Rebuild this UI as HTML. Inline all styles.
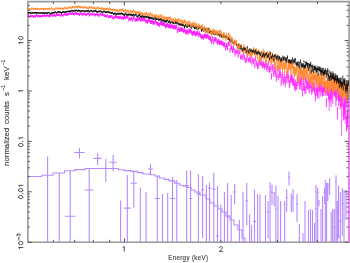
<!DOCTYPE html>
<html><head><meta charset="utf-8"><style>html,body{margin:0;padding:0;background:#fff;overflow:hidden}svg{display:block;filter:blur(0.35px)}</style></head>
<body><svg width="350" height="263" viewBox="0 0 350 263"><rect x="0" y="0" width="350" height="263" fill="#fff"/><path d="M27.9 1.6H349.1V242.2H27.9Z" fill="none" stroke="#9a9a9a" stroke-width="1.6"/><path d="M28 176.5H41.7V175.3H53V173H64.5V170.8H74.7V169.6H85V168.5H118.5V169.8H124V170.6H130.8V171.4H137.4V172.6H143V174H150V174.8H154.8V176H159.5V178H164.3V179.4H169V180.9H174.7V183.3H179.5V185.2H183.3V186.2H187V187.5H191V190H195V192H200V195H206V199H210V203H214V206H218V209H222V212H226V216H230V220H234V225H238V230H242V238H245V242.2" stroke="#b68aff" stroke-width="1.1" fill="none"/><path d="M47.6 156.5V242M59.3 173V242M70.2 171V242M64.9 216.3h10.6M79.5 148V158.5M74.3 152.5h10.4M89.2 168V242M84.7 190h9.0M97.6 153.3V165M93.6 158.4h8M105.8 159V182M102.2 168.5h7.2M113.1 154.8V171.3M109.39999999999999 162.2h7.4M120.6 200.5V242M127.3 175V242M123.8 208.1h7.0M133.8 171.3V207.7M130.70000000000002 183.3h6.2M140.3 187.4V242M146 192V242M150.5 163.8V175M148.0 169h5.0M157.3 176V242M154.70000000000002 198.5h5.2M162.5 194V242M167.7 193V242M172.5 177V242M170.0 198.5h5.0M176.8 180V242M186.7 170.4V242M184.7 185.6h4M190.6 170.4V242M189.0 198.5h3.2M198.4 174.2V242M196.8 193.6h3.2M202.6 176V238M201.0 190h3.2M206.4 185V242M209.5 182.6V242M207.7 188h3.6M213.8 172.8V242M212.3 189.4h3.0M217.5 186V242M216.0 236h3.0M220.8 204.5V242M224.4 192V242M227.6 182.8V242M226.1 217h3.0M231.2 195V242M234.6 184V204.5M233.1 192h3.0M239.4 220V242M243 192V242M246.8 182.8V225.5M245.3 201h3.0M249.6 214.4V242M251.6 225V242M254.5 189.4V242M253.0 221.4h3.0M257.6 194V242M260 194.4V242M265.5 195V242M268.1 201V238.4M266.90000000000003 212.2h2.4M270.1 182.2V242M272 184.7V205M271.0 192.4h2.0M274.2 192V206M275.9 185.6V242M274.9 209h2.0M278 196V242M280.6 201V242M284.7 201V242M286.7 189V212M285.7 197.5h2.0M289 171.4V185.6M287.8 177h2.4M291.3 194V212.2M293 189V212M292.0 197.5h2.0M297 194V222M296.0 203.7h2.0M299.4 224V242M303 233.3V242M305 201V242M308.5 210V242M310.5 209V242M312.5 210V242M314.5 223V242M316 184.7V242M315.0 209h2.0M317.7 188V242M316.7 192.4h2.0M319 200V206M321 209V242M322.6 196V242M324.6 188V204M323.6 192.4h2.0M325.3 180V242M326.6 183V242M327.8 182.8V201M326.8 185.6h2.0M329.6 178V195M331.2 212V242M332.7 209V242M334.3 209V242M333.3 227.3h2.0M336 175.2V242M335.0 181.8h2.0M337.3 201V242M336.3 212.6h2.0M338.5 185.6V238.4M337.5 236.4h2.0M340.3 192V242M339.3 221.2h2.0M342.3 188V235.4M341.3 203.7h2.0M344 190V242M346 190V220" stroke="#b68aff" stroke-width="1.1" fill="none"/><path d="M27.9 15.1H28.8M28.3 14.1V16.2M28.8 16.9H29.7M29.2 15.9V18.0M29.7 15.8H30.6M30.1 14.7V16.9M30.6 16.2H31.5M31.0 15.2V17.3M31.5 16.2H32.4M31.9 15.1V17.3M32.4 16.1H33.3M32.8 15.0V17.2M33.3 16.9H34.2M33.7 15.8V18.0M34.2 16.1H35.1M34.6 15.0V17.2M35.1 16.4H36.0M35.5 15.3V17.5M36.0 15.0H36.9M36.4 14.0V16.1M36.9 15.8H37.8M37.3 14.7V16.9M37.8 16.1H38.7M38.2 15.0V17.2M38.7 16.0H39.6M39.1 15.0V17.2M39.6 16.2H40.5M40.0 15.2V17.3M40.5 16.4H41.4M40.9 15.3V17.5M41.4 16.1H42.3M41.8 15.0V17.2M42.3 15.6H43.2M42.7 14.6V16.7M43.2 16.0H44.1M43.6 14.9V17.1M44.1 15.4H44.9M44.5 14.3V16.5M44.9 15.9H45.8M45.4 14.9V17.1M45.8 15.8H46.7M46.3 14.7V17.0M46.7 15.1H47.6M47.2 14.0V16.2M47.6 15.5H48.5M48.1 14.5V16.7M48.5 16.1H49.4M49.0 15.0V17.2M49.4 15.9H50.3M49.9 14.8V17.0M50.3 15.5H51.2M50.8 14.4V16.6M51.2 14.7H52.1M51.7 13.6V15.8M52.1 15.7H53.0M52.6 14.6V16.8M53.0 15.6H53.9M53.5 14.5V16.7M53.9 14.9H54.8M54.4 13.8V16.0M54.8 15.8H55.7M55.3 14.7V16.9M55.7 15.4H56.6M56.2 14.3V16.5M56.6 14.7H57.5M57.1 13.6V15.8M57.5 14.8H58.4M58.0 13.7V15.9M58.4 14.9H59.3M58.9 13.8V16.1M59.3 14.6H60.2M59.8 13.5V15.7M60.2 15.8H61.1M60.7 14.7V17.0M61.1 14.2H62.0M61.5 13.1V15.4M62.0 15.2H62.9M62.4 14.1V16.3M62.9 15.5H63.8M63.3 14.4V16.6M63.8 14.4H64.7M64.2 13.2V15.5M64.7 14.1H65.6M65.1 12.9V15.2M65.6 14.6H66.5M66.0 13.5V15.8M66.5 14.9H67.4M66.9 13.7V16.0M67.4 14.2H68.3M67.8 13.1V15.4M68.3 14.2H69.2M68.7 13.0V15.3M69.2 13.3H70.1M69.6 12.2V14.5M70.1 13.6H71.0M70.5 12.5V14.8M71.0 13.8H71.9M71.4 12.7V15.0M71.9 13.2H72.8M72.3 12.1V14.4M72.8 13.9H73.7M73.2 12.7V15.0M73.7 14.2H74.6M74.1 13.1V15.4M74.6 13.3H75.5M75.0 12.2V14.5M75.5 13.3H76.4M75.9 12.2V14.5M76.4 13.8H77.3M76.8 12.6V15.0M77.3 14.1H78.2M77.7 13.0V15.3M78.2 13.6H79.0M78.6 12.4V14.8M79.0 14.8H79.9M79.5 13.7V16.0M79.9 13.4H80.8M80.4 12.2V14.6M80.8 13.5H81.7M81.3 12.4V14.7M81.7 14.7H82.6M82.2 13.6V15.9M82.6 13.8H83.5M83.1 12.7V15.0M83.5 14.4H84.4M84.0 13.3V15.6M84.4 13.5H85.3M84.9 12.3V14.7M85.3 15.0H86.2M85.8 13.9V16.2M86.2 14.5H87.1M86.7 13.3V15.7M87.1 13.6H88.0M87.6 12.4V14.8M88.0 13.3H88.9M88.5 12.2V14.5M88.9 15.1H89.8M89.4 14.0V16.4M89.8 14.4H90.7M90.3 13.2V15.6M90.7 14.0H91.6M91.2 12.8V15.2M91.6 14.6H92.5M92.1 13.4V15.8M92.5 13.4H93.4M93.0 12.3V14.6M93.4 15.1H94.3M93.9 13.9V16.3M94.3 14.2H95.2M94.8 13.1V15.5M95.2 15.1H96.1M95.6 14.0V16.4M96.1 13.8H97.0M96.5 12.6V15.0M97.0 14.7H97.9M97.4 13.5V15.9M97.9 15.0H98.8M98.3 13.8V16.2M98.8 15.8H99.7M99.2 14.7V17.1M99.7 13.9H100.6M100.1 12.7V15.1M100.6 14.5H101.5M101.0 13.3V15.8M101.5 14.6H102.4M101.9 13.4V15.8M102.4 14.4H103.3M102.8 13.2V15.7M103.3 15.0H104.2M103.7 13.8V16.3M104.2 15.8H105.1M104.6 14.5V17.1M105.1 16.0H106.0M105.5 14.8V17.3M106.0 16.2H106.9M106.4 14.9V17.5M106.9 15.0H107.8M107.3 13.7V16.3M107.8 16.9H108.7M108.2 15.7V18.3M108.7 16.5H109.6M109.1 15.2V17.9M109.6 16.5H110.5M110.0 15.2V17.9M110.5 16.3H111.4M110.9 15.0V17.7M111.4 16.2H112.2M111.8 14.9V17.6M112.2 17.6H113.1M112.7 16.3V19.0M113.1 18.1H114.0M113.6 16.8V19.5M114.0 17.0H114.9M114.5 15.7V18.4M114.9 16.3H115.8M115.4 14.9V17.7M115.8 16.7H116.7M116.3 15.3V18.1M116.7 17.1H117.6M117.2 15.8V18.6M117.6 17.6H118.5M118.1 16.2V19.1M118.5 17.2H119.4M119.0 15.9V18.7M119.4 17.7H120.3M119.9 16.3V19.2M120.3 17.0H121.2M120.8 15.6V18.5M121.2 18.3H122.1M121.7 16.9V19.8M122.1 17.7H123.0M122.6 16.2V19.2M123.0 17.9H123.9M123.5 16.5V19.5M123.9 17.5H124.8M124.4 16.1V19.1M124.8 17.9H125.7M125.3 16.4V19.4M125.7 16.7H126.6M126.2 15.2V18.3M126.6 17.0H127.5M127.1 15.6V18.6M127.5 17.1H128.4M128.0 15.6V18.7M128.4 19.9H129.3M128.8 18.4V21.5M129.3 18.7H130.2M129.7 17.2V20.3M130.2 19.0H131.1M130.6 17.5V20.7M131.1 18.2H132.0M131.5 16.6V19.8M132.0 20.3H132.9M132.4 18.7V22.0M132.9 17.8H133.8M133.3 16.2V19.5M133.8 18.0H134.7M134.2 16.4V19.6M134.7 20.0H135.6M135.1 18.5V21.8M135.6 19.9H136.5M136.0 18.3V21.6M136.5 19.9H137.4M136.9 18.3V21.6M137.4 19.3H138.3M137.8 17.7V21.1M138.3 19.0H139.2M138.7 17.3V20.7M139.2 18.1H140.1M139.6 16.4V19.8M140.1 20.0H141.0M140.5 18.4V21.8M141.0 19.3H141.9M141.4 17.6V21.1M141.9 20.0H142.8M142.3 18.3V21.8M142.8 18.7H143.7M143.2 17.1V20.5M143.7 19.8H144.6M144.1 18.1V21.6M144.6 19.3H145.4M145.0 17.7V21.2M145.4 21.7H146.3M145.9 20.0V23.6M146.3 21.0H147.2M146.8 19.3V22.9M147.2 21.8H148.1M147.7 20.1V23.7M148.1 19.8H149.0M148.6 18.1V21.7M149.0 20.7H149.9M149.5 19.0V22.6M149.9 21.8H150.8M150.4 20.0V23.7M150.8 22.1H151.7M151.3 20.4V24.0M151.7 21.4H152.6M152.2 19.6V23.3M152.6 22.7H153.5M153.1 21.0V24.7M153.5 23.2H154.4M154.0 21.4V25.1M154.4 22.0H155.3M154.9 20.2V23.9M155.3 20.8H156.2M155.8 19.0V22.8M156.2 23.0H157.1M156.7 21.3V25.0M157.1 23.5H158.0M157.6 21.7V25.5M158.0 24.4H158.9M158.5 22.6V26.3M158.9 24.7H159.8M159.4 22.9V26.7M159.8 23.0H160.7M160.3 21.2V25.0M160.7 22.9H161.6M161.2 21.1V24.9M161.6 23.9H162.5M162.1 22.1V25.9M162.5 23.8H163.4M162.9 21.9V25.8M163.4 24.2H164.3M163.8 22.3V26.2M164.3 24.4H165.2M164.7 22.5V26.4M165.2 26.3H166.1M165.6 24.5V28.4M166.1 25.4H167.0M166.5 23.5V27.4M167.0 24.9H167.9M167.4 23.1V27.0M167.9 26.1H168.8M168.3 24.2V28.1M168.8 25.9H169.7M169.2 24.1V28.0M169.7 26.5H170.6M170.1 24.7V28.6M170.6 26.4H171.5M171.0 24.5V28.5M171.5 25.5H172.4M171.9 23.6V27.6M172.4 27.2H173.3M172.8 25.3V29.3M173.3 27.3H174.2M173.7 25.4V29.4M174.2 26.7H175.1M174.6 24.8V28.8M175.1 27.2H176.0M175.5 25.3V29.4M176.0 26.5H176.9M176.4 24.6V28.7M176.9 30.9H177.8M177.3 29.0V33.0M177.8 28.1H178.7M178.2 26.2V30.3M178.7 30.0H179.5M179.1 28.0V32.1M179.5 29.6H180.4M180.0 27.6V31.7M180.4 29.2H181.3M180.9 27.2V31.3M181.3 29.2H182.2M181.8 27.3V31.4M182.2 29.6H183.1M182.7 27.6V31.8M183.1 30.9H184.0M183.6 28.9V33.1M184.0 29.6H184.9M184.5 27.7V31.8M184.9 32.0H185.8M185.4 30.0V34.2M185.8 32.0H186.7M186.3 30.0V34.2M186.7 31.1H187.6M187.2 29.1V33.3M187.6 32.8H188.5M188.1 30.8V35.0M188.5 30.2H189.4M189.0 28.2V32.4M189.4 31.3H190.3M189.9 29.3V33.6M190.3 30.5H191.2M190.8 28.5V32.8M191.2 32.9H192.1M191.7 30.8V35.1M192.1 33.5H193.0M192.6 31.4V35.7M193.0 33.0H193.9M193.5 30.9V35.2M193.9 32.5H194.8M194.4 30.4V34.7M194.8 34.2H195.7M195.3 32.2V36.5M195.7 33.2H196.6M196.1 31.1V35.5M196.6 33.8H197.5M197.0 31.8V36.1M197.5 32.1H198.4M197.9 30.0V34.4M198.4 35.1H199.3M198.8 33.0V37.4M199.3 33.4H200.2M199.7 31.3V35.7M200.2 35.8H201.1M200.6 33.7V38.1M201.1 36.5H202.0M201.5 34.4V38.8M202.0 36.5H202.9M202.4 34.4V38.8M202.9 37.5H203.8M203.3 35.4V39.8M203.8 36.0H204.7M204.2 33.9V38.3M204.7 35.2H205.6M205.1 33.1V37.5M205.6 36.7H206.5M206.0 34.6V39.0M206.5 36.4H207.4M206.9 34.3V38.7M207.4 35.4H208.3M207.8 33.3V37.7M208.3 37.5H209.2M208.7 35.4V39.8M209.2 37.9H210.1M209.6 35.8V40.2M210.1 38.9H211.0M210.5 36.8V41.3M211.0 41.4H211.9M211.4 39.2V43.7M211.9 38.1H212.7M212.3 36.0V40.4M212.7 42.3H213.6M213.2 40.2V44.7M213.6 38.9H214.5M214.1 36.7V41.2M214.5 40.2H215.4M215.0 38.1V42.5M215.4 38.8H216.3M215.9 36.7V41.1M216.3 40.9H217.2M216.8 38.8V43.3M217.2 42.5H218.1M217.7 40.4V44.9M218.1 40.9H219.0M218.6 38.8V43.2M219.0 42.8H219.9M219.5 40.6V45.1M219.9 42.5H220.8M220.4 40.4V44.8M220.8 42.5H221.7M221.3 40.4V44.8M221.7 43.2H222.6M222.2 41.1V45.5M222.6 43.7H223.5M223.1 41.5V46.0M223.5 45.2H224.4M224.0 43.1V47.6M224.4 44.4H225.3M224.8 42.3V46.8M225.3 48.2H226.2M225.7 46.1V50.5M226.2 45.1H227.0M226.6 43.0V47.5M227.0 47.6H227.9M227.5 45.4V49.9M227.9 43.6H228.7M228.3 41.5V45.9M228.7 43.7H229.6M229.2 41.5V46.0M229.6 50.3H230.4M230.0 48.2V52.6M230.4 46.7H231.3M230.9 44.6V49.0M231.3 47.9H232.1M231.7 45.8V50.2M232.1 50.5H233.0M232.5 48.4V52.8M233.0 47.9H233.8M233.4 45.8V50.2M233.8 50.5H234.6M234.2 48.4V52.8" stroke="#ff20ff" stroke-width="1.05" fill="none"/><path d="M234.6 54.2H235.4M235.0 52.1V56.5M235.4 51.4H236.2M235.8 49.3V53.7M236.2 51.8H237.0M236.6 49.7V54.1M237.0 51.8H237.8M237.4 49.8V54.2M237.8 55.5H238.6M238.2 53.4V57.8M238.6 52.1H239.4M239.0 50.0V54.4M239.4 52.5H240.2M239.8 50.4V54.8M240.2 57.4H241.0M240.6 55.3V59.7M241.0 56.9H241.8M241.4 54.7V59.2M241.8 56.2H242.6M242.2 54.0V58.5M242.6 58.0H243.3M243.0 55.8V60.4M243.3 53.6H244.1M243.7 51.4V56.0M244.1 57.3H244.9M244.5 55.1V59.7M244.9 60.6H245.6M245.3 58.4V63.0M245.6 60.4H246.4M246.0 58.1V62.9M246.4 58.9H247.1M246.8 56.7V61.4M247.1 55.0H247.9M247.5 52.7V57.5M247.9 59.9H248.6M248.3 57.6V62.5M248.6 59.5H249.4M249.0 57.2V62.1M249.4 58.9H250.1M249.7 56.6V61.5M250.1 60.6H250.8M250.5 58.3V63.2M250.8 56.5H251.6M251.2 54.2V59.2M251.6 62.6H252.3M251.9 60.2V65.2M252.3 59.7H253.0M252.7 57.3V62.4M253.0 61.4H253.7M253.4 58.9V64.1M253.7 60.5H254.4M254.1 58.1V63.3M254.4 65.6H255.2M254.8 63.2V68.4M255.2 58.5H255.9M255.5 56.0V61.2M255.9 63.3H256.6M256.2 60.8V66.1M256.6 63.1H257.3M256.9 60.6V66.0M257.3 66.2H258.0M257.6 63.6V69.0M258.0 65.9H258.7M258.3 63.3V68.7M258.7 62.6H259.3M259.0 60.1V65.5M259.3 61.8H260.0M259.7 59.3V64.7M260.0 62.7H260.7M260.4 60.1V65.6M260.7 61.9H261.4M261.0 59.3V64.8M261.4 63.4H262.1M261.7 60.8V66.3M262.1 65.5H262.7M262.4 62.9V68.5M262.7 63.6H263.4M263.1 61.0V66.7M263.4 64.6H264.1M263.7 61.9V67.6M264.1 66.8H264.7M264.4 64.1V69.8M264.7 64.8H265.4M265.1 62.1V67.9M265.4 63.6H266.0M265.7 60.9V66.7M266.0 66.7H266.7M266.4 64.0V69.8M266.7 68.7H267.3M267.0 66.0V71.9M267.3 65.9H268.0M267.7 63.2V69.1M268.0 63.2H268.6M268.3 60.5V66.4M268.6 69.2H269.3M269.0 66.4V72.4M269.3 69.1H269.9M269.6 66.3V72.3M269.9 69.5H270.6M270.2 66.7V72.8M270.6 66.1H271.2M270.9 63.2V69.3M271.2 76.3H271.8M271.5 73.4V79.6M271.8 69.1H272.4M272.1 66.2V72.4M272.4 67.1H273.1M272.8 64.2V70.4M273.1 73.5H273.7M273.4 70.6V76.9M273.7 67.0H274.3M274.0 64.1V70.4M274.3 69.9H274.9M274.6 67.0V73.3M274.9 73.7H275.5M275.2 70.7V77.1M275.5 71.6H276.1M275.8 68.6V75.0M276.1 78.1H276.7M276.4 75.1V81.5M276.7 74.8H277.4M277.1 71.8V78.2M277.4 68.0H278.0M277.7 65.0V71.5M278.0 76.6H278.6M278.3 73.6V80.1M278.6 68.6H279.2M278.9 65.5V72.1M279.2 74.5H279.7M279.5 71.4V78.0M279.7 71.5H280.3M280.0 68.4V75.0M280.3 74.6H280.9M280.6 71.6V78.2M280.9 82.5H281.5M281.2 79.4V86.1M281.5 77.3H282.1M281.8 74.2V80.9M282.1 75.0H282.7M282.4 71.8V78.6M282.7 80.1H283.3M283.0 77.0V83.7M283.3 81.2H283.8M283.6 78.1V84.8M283.8 75.2H284.4M284.1 72.0V78.8M284.4 78.9H285.0M284.7 75.8V82.6M285.0 83.6H285.6M285.3 80.4V87.3M285.6 79.6H286.1M285.8 76.4V83.3M286.1 74.6H286.7M286.4 71.4V78.3M286.7 79.3H287.3M287.0 76.1V83.1M287.3 74.9H287.8M287.5 71.7V78.6M287.8 73.4H288.4M288.1 70.2V77.2M288.4 78.3H288.9M288.7 75.0V82.1M288.9 83.0H289.5M289.2 79.8V86.8M289.5 84.0H290.0M289.8 80.8V87.9M290.0 79.2H290.6M290.3 75.9V83.1M290.6 76.4H291.1M290.9 73.1V80.3M291.1 78.6H291.7M291.4 75.3V82.5M291.7 77.8H292.2M291.9 74.5V81.7M292.2 81.6H292.8M292.5 78.2V85.5M292.8 79.1H293.3M293.0 75.7V83.0M293.3 82.1H293.8M293.6 78.7V86.0M293.8 81.7H294.4M294.1 78.4V85.7M294.4 86.0H294.9M294.6 82.6V90.0M294.9 87.6H295.4M295.2 84.2V91.6M295.4 82.9H296.0M295.7 79.5V86.9M296.0 85.8H296.5M296.2 82.4V89.8M296.5 85.3H297.0M296.8 81.9V89.4M297.0 79.3H297.5M297.3 75.9V83.4M297.5 82.3H298.1M297.8 78.8V86.3M298.1 75.9H298.6M298.3 72.5V80.0M298.6 79.0H299.1M298.8 75.6V83.1M299.1 84.9H299.6M299.4 81.5V89.1M299.6 79.9H300.1M299.9 76.4V84.0M300.1 81.5H300.6M300.4 78.0V85.6M300.6 85.8H301.1M300.9 82.3V89.9M301.1 79.3H301.7M301.4 75.8V83.5M301.7 86.5H302.2M301.9 83.0V90.7M302.2 92.4H302.7M302.4 88.9V96.6M302.7 80.9H303.2M302.9 77.3V85.1M303.2 86.4H303.7M303.4 82.9V90.7M303.7 79.0H304.2M303.9 75.4V83.3M304.2 87.0H304.7M304.4 83.4V91.2M304.7 89.6H305.2M304.9 86.0V93.9M305.2 79.3H305.7M305.4 75.7V83.6M305.7 89.4H306.1M305.9 85.8V93.7M306.1 84.1H306.6M306.4 80.5V88.4M306.6 79.9H307.1M306.9 76.3V84.3M307.1 84.7H307.6M307.4 81.1V89.0M307.6 85.6H308.1M307.9 81.9V90.0M308.1 85.0H308.6M308.3 81.3V89.4M308.6 82.4H309.1M308.8 78.7V86.8M309.1 89.1H309.5M309.3 85.5V93.5M309.5 83.5H310.0M309.8 79.8V87.9M310.0 83.7H310.5M310.3 80.0V88.1M310.5 79.5H311.0M310.7 75.8V83.9M311.0 87.6H311.4M311.2 83.8V92.0M311.4 90.3H311.9M311.7 86.6V94.8M311.9 83.6H312.4M312.1 79.9V88.1M312.4 88.2H312.9M312.6 84.5V92.7M312.9 85.5H313.3M313.1 81.8V90.0M313.3 86.2H313.8M313.5 82.5V90.8M313.8 82.6H314.2M314.0 78.8V87.1M314.2 89.9H314.7M314.5 86.1V94.5M314.7 87.5H315.2M314.9 83.7V92.1M315.2 97.0H315.6M315.4 93.2V101.6M315.6 91.4H316.1M315.9 87.6V96.1M316.1 81.9H316.5M316.3 78.1V86.5M316.5 90.7H317.0M316.8 86.9V95.3M317.0 90.9H317.5M317.2 87.1V95.6M317.5 93.7H317.9M317.7 89.9V98.4M317.9 85.7H318.4M318.1 81.8V90.4M318.4 87.4H318.8M318.6 83.5V92.1M318.8 93.9H319.2M319.0 90.1V98.6M319.2 85.7H319.7M319.5 81.8V90.4M319.7 87.4H320.1M319.9 83.5V92.1M320.1 85.6H320.6M320.4 81.7V90.4M320.6 91.7H321.0M320.8 87.8V96.5M321.0 82.5H321.5M321.2 78.6V87.3M321.5 87.4H321.9M321.7 83.5V92.2M321.9 89.8H322.3M322.1 85.9V94.6M322.3 91.8H322.8M322.6 87.9V96.6M322.8 90.7H323.2M323.0 86.7V95.5M323.2 86.3H323.6M323.4 82.4V91.2M323.6 91.1H324.1M323.9 87.2V96.0M324.1 85.8H324.5M324.3 81.8V90.7M324.5 87.8H324.9M324.7 83.8V92.7M324.9 85.1H325.4M325.2 81.1V90.1M325.4 87.2H325.8M325.6 83.1V92.2M325.8 91.0H326.2M326.0 86.9V96.1M326.2 102.0H326.6M326.4 97.8V107.1M326.6 89.7H327.1M326.9 85.5V94.9M327.1 87.7H327.5M327.3 83.5V93.0M327.5 90.6H327.9M327.7 86.3V95.9M327.9 88.9H328.3M328.1 84.6V94.4M328.3 94.1H328.7M328.5 89.7V99.6M328.7 93.7H329.2M329.0 89.3V99.3M329.2 97.2H329.6M329.4 92.7V102.9M329.6 86.1H330.0M329.8 81.5V91.8M330.0 91.4H330.4M330.2 86.8V97.3M330.4 95.1H330.8M330.6 90.5V101.0M330.8 100.9H331.2M331.0 96.2V106.9M331.2 93.5H331.6M331.4 88.8V99.6M331.6 86.2H332.0M331.8 81.4V92.4M332.0 90.6H332.4M332.2 85.8V96.8M332.4 97.5H332.9M332.7 92.6V103.8M332.9 86.5H333.3M333.1 81.6V92.9M333.3 86.6H333.7M333.5 81.7V93.1M333.7 88.6H334.1M333.9 83.6V95.2M334.1 89.6H334.5M334.3 84.6V96.2M334.5 88.1H334.9M334.7 83.0V94.7M334.9 91.1H335.3M335.1 85.9V97.9M335.3 90.2H335.7M335.5 85.0V97.0M335.7 99.8H336.1M335.9 94.5V106.7M336.1 87.3H336.5M336.3 82.1V94.3M336.5 93.8H336.8M336.6 88.5V100.9M336.8 86.1H337.2M337.0 80.7V93.3M337.2 112.4H337.6M337.4 107.0V119.6M337.6 92.0H338.0M337.8 86.5V99.3M338.0 90.8H338.4M338.2 85.3V98.2M338.4 98.8H338.8M338.6 93.2V106.2M338.8 94.1H339.2M339.0 88.5V101.6M339.2 92.7H339.6M339.4 87.0V100.3M339.6 93.8H340.0M339.8 88.2V101.5M340.0 101.4H340.3M340.2 95.7V109.2M340.3 98.8H340.7M340.5 93.0V106.6M340.7 92.2H341.1M340.9 86.4V100.1M341.1 91.1H341.5M341.3 85.3V99.1M341.5 98.0H341.9M341.7 92.1V106.1M341.9 98.4H342.3M342.1 92.4V106.5M342.3 97.8H342.6M342.4 91.8V106.1M342.6 93.2H343.0M342.8 87.2V101.5M343.0 108.6H343.4M343.2 102.6V117.0M343.4 112.1H343.8M343.6 106.0V120.6M343.8 99.3H344.1M343.9 93.2V107.9M344.1 110.2H344.5M344.3 104.1V118.9M344.5 105.4H344.9M344.7 99.2V114.1M344.9 100.3H345.2M345.1 94.1V109.1M345.2 98.0H345.6M345.4 91.7V106.8M345.6 111.2H346.0M345.8 104.9V120.2M346.0 96.5H346.4M346.2 90.1V105.5M346.4 122.3H346.7M346.5 115.8V131.4M346.7 98.5H347.1M346.9 92.0V107.7M347.1 119.7H347.5M347.3 113.2V129.0M347.5 115.6H347.8M347.6 109.0V124.9M347.8 98.6H348.2M348.0 92.0V108.0M348.2 106.4H348.5M348.3 99.8V115.8" stroke="#ff20ff" stroke-width="0.85" fill="none"/><path d="M27.9 12.8H28.8M28.3 12.0V13.6M28.8 12.6H29.7M29.2 11.9V13.4M29.7 12.8H30.6M30.1 12.0V13.6M30.6 13.4H31.5M31.0 12.6V14.1M31.5 12.6H32.4M31.9 11.9V13.4M32.4 12.8H33.3M32.8 12.0V13.6M33.3 13.1H34.2M33.7 12.4V13.9M34.2 12.7H35.1M34.6 12.0V13.5M35.1 12.8H36.0M35.5 12.0V13.6M36.0 12.8H36.9M36.4 12.1V13.6M36.9 12.9H37.8M37.3 12.2V13.7M37.8 12.8H38.7M38.2 12.0V13.5M38.7 13.2H39.6M39.1 12.4V14.0M39.6 13.0H40.5M40.0 12.3V13.8M40.5 13.1H41.4M40.9 12.4V13.9M41.4 12.8H42.3M41.8 12.0V13.5M42.3 13.0H43.2M42.7 12.2V13.7M43.2 13.1H44.1M43.6 12.3V13.9M44.1 13.3H44.9M44.5 12.5V14.0M44.9 13.1H45.8M45.4 12.3V13.9M45.8 13.0H46.7M46.3 12.2V13.8M46.7 13.1H47.6M47.2 12.3V13.9M47.6 12.5H48.5M48.1 11.8V13.3M48.5 12.6H49.4M49.0 11.9V13.4M49.4 13.7H50.3M49.9 12.9V14.5M50.3 13.6H51.2M50.8 12.9V14.4M51.2 12.9H52.1M51.7 12.2V13.7M52.1 13.0H53.0M52.6 12.2V13.7M53.0 12.7H53.9M53.5 11.9V13.5M53.9 12.6H54.8M54.4 11.8V13.4M54.8 11.9H55.7M55.3 11.2V12.7M55.7 12.9H56.6M56.2 12.2V13.7M56.6 12.6H57.5M57.1 11.8V13.4M57.5 11.7H58.4M58.0 10.9V12.5M58.4 12.1H59.3M58.9 11.3V12.9M59.3 12.0H60.2M59.8 11.2V12.8M60.2 12.4H61.1M60.7 11.6V13.2M61.1 12.7H62.0M61.5 12.0V13.5M62.0 12.0H62.9M62.4 11.2V12.8M62.9 11.9H63.8M63.3 11.2V12.7M63.8 12.3H64.7M64.2 11.5V13.1M64.7 12.0H65.6M65.1 11.2V12.8M65.6 11.7H66.5M66.0 10.9V12.5M66.5 11.9H67.4M66.9 11.2V12.7M67.4 11.5H68.3M67.8 10.7V12.3M68.3 11.3H69.2M68.7 10.6V12.1M69.2 11.3H70.1M69.6 10.5V12.1M70.1 11.4H71.0M70.5 10.6V12.2M71.0 10.9H71.9M71.4 10.1V11.7M71.9 10.7H72.8M72.3 9.9V11.5M72.8 10.8H73.7M73.2 10.0V11.6M73.7 11.1H74.6M74.1 10.3V11.9M74.6 10.4H75.5M75.0 9.7V11.2M75.5 10.9H76.4M75.9 10.1V11.7M76.4 10.4H77.3M76.8 9.6V11.2M77.3 11.2H78.2M77.7 10.4V12.0M78.2 10.4H79.0M78.6 9.7V11.2M79.0 10.8H79.9M79.5 10.0V11.6M79.9 11.3H80.8M80.4 10.5V12.1M80.8 11.0H81.7M81.3 10.2V11.8M81.7 10.8H82.6M82.2 10.1V11.6M82.6 10.8H83.5M83.1 10.0V11.6M83.5 11.3H84.4M84.0 10.5V12.1M84.4 11.3H85.3M84.9 10.6V12.1M85.3 10.9H86.2M85.8 10.1V11.7M86.2 11.1H87.1M86.7 10.3V11.9M87.1 10.9H88.0M87.6 10.1V11.7M88.0 10.7H88.9M88.5 9.9V11.5M88.9 11.7H89.8M89.4 10.9V12.5M89.8 11.0H90.7M90.3 10.2V11.8M90.7 10.6H91.6M91.2 9.8V11.4M91.6 11.2H92.5M92.1 10.5V12.1M92.5 11.5H93.4M93.0 10.7V12.3M93.4 10.9H94.3M93.9 10.1V11.7M94.3 11.1H95.2M94.8 10.4V12.0M95.2 10.9H96.1M95.6 10.2V11.8M96.1 11.5H97.0M96.5 10.7V12.3M97.0 11.9H97.9M97.4 11.2V12.8M97.9 11.4H98.8M98.3 10.7V12.3M98.8 11.6H99.7M99.2 10.8V12.4M99.7 11.2H100.6M100.1 10.4V12.0M100.6 11.4H101.5M101.0 10.6V12.3M101.5 12.2H102.4M101.9 11.4V13.0M102.4 12.1H103.3M102.8 11.3V12.9M103.3 11.4H104.2M103.7 10.5V12.2M104.2 11.6H105.1M104.6 10.8V12.4M105.1 12.3H106.0M105.5 11.4V13.1M106.0 12.1H106.9M106.4 11.3V13.0M106.9 12.1H107.8M107.3 11.3V13.0M107.8 12.2H108.7M108.2 11.4V13.1M108.7 12.2H109.6M109.1 11.4V13.1M109.6 12.6H110.5M110.0 11.7V13.5M110.5 12.9H111.4M110.9 12.0V13.8M111.4 13.1H112.2M111.8 12.2V14.0M112.2 12.7H113.1M112.7 11.8V13.6M113.1 14.1H114.0M113.6 13.3V15.0M114.0 13.5H114.9M114.5 12.6V14.4M114.9 13.5H115.8M115.4 12.6V14.4M115.8 14.3H116.7M116.3 13.4V15.2M116.7 13.5H117.6M117.2 12.6V14.5M117.6 14.0H118.5M118.1 13.1V15.0M118.5 13.4H119.4M119.0 12.5V14.4M119.4 13.9H120.3M119.9 13.0V14.9M120.3 13.6H121.2M120.8 12.7V14.6M121.2 13.5H122.1M121.7 12.5V14.4M122.1 13.9H123.0M122.6 13.0V14.9M123.0 14.6H123.9M123.5 13.7V15.6M123.9 15.0H124.8M124.4 14.1V16.0M124.8 13.5H125.7M125.3 12.5V14.5M125.7 14.4H126.6M126.2 13.5V15.4M126.6 14.8H127.5M127.1 13.9V15.8M127.5 14.5H128.4M128.0 13.5V15.5M128.4 14.7H129.3M128.8 13.7V15.7M129.3 14.3H130.2M129.7 13.3V15.3M130.2 14.7H131.1M130.6 13.8V15.8M131.1 14.8H132.0M131.5 13.8V15.8M132.0 15.3H132.9M132.4 14.3V16.3M132.9 14.7H133.8M133.3 13.7V15.8M133.8 15.6H134.7M134.2 14.6V16.6M134.7 14.8H135.6M135.1 13.8V15.8M135.6 14.5H136.5M136.0 13.5V15.5M136.5 16.2H137.4M136.9 15.2V17.3M137.4 16.6H138.3M137.8 15.6V17.7M138.3 15.3H139.2M138.7 14.3V16.4M139.2 14.8H140.1M139.6 13.8V15.9M140.1 16.5H141.0M140.5 15.5V17.6M141.0 16.8H141.9M141.4 15.7V17.9M141.9 15.9H142.8M142.3 14.8V17.0M142.8 16.8H143.7M143.2 15.8V17.9M143.7 16.8H144.6M144.1 15.7V17.9M144.6 16.8H145.4M145.0 15.8V17.9M145.4 16.5H146.3M145.9 15.4V17.6M146.3 17.1H147.2M146.8 16.1V18.3M147.2 16.9H148.1M147.7 15.8V18.0M148.1 17.3H149.0M148.6 16.2V18.4M149.0 17.8H149.9M149.5 16.7V19.0M149.9 17.7H150.8M150.4 16.6V18.8M150.8 18.2H151.7M151.3 17.1V19.4M151.7 17.9H152.6M152.2 16.8V19.0M152.6 18.7H153.5M153.1 17.6V19.9M153.5 18.9H154.4M154.0 17.8V20.1M154.4 17.6H155.3M154.9 16.4V18.7M155.3 18.6H156.2M155.8 17.5V19.8M156.2 18.8H157.1M156.7 17.7V20.0M157.1 18.7H158.0M157.6 17.5V19.9M158.0 19.4H158.9M158.5 18.3V20.6M158.9 19.5H159.8M159.4 18.4V20.7M159.8 19.3H160.7M160.3 18.1V20.5M160.7 19.6H161.6M161.2 18.4V20.8M161.6 20.7H162.5M162.1 19.5V21.9M162.5 19.6H163.4M162.9 18.4V20.8M163.4 20.7H164.3M163.8 19.5V21.9M164.3 21.2H165.2M164.7 20.0V22.4M165.2 21.3H166.1M165.6 20.1V22.5M166.1 21.1H167.0M166.5 20.0V22.4M167.0 20.0H167.9M167.4 18.9V21.3M167.9 22.0H168.8M168.3 20.8V23.3M168.8 21.3H169.7M169.2 20.1V22.6M169.7 22.9H170.6M170.1 21.7V24.2M170.6 21.9H171.5M171.0 20.7V23.1M171.5 21.5H172.4M171.9 20.3V22.8M172.4 22.5H173.3M172.8 21.3V23.8M173.3 23.0H174.2M173.7 21.8V24.3M174.2 22.6H175.1M174.6 21.4V23.9M175.1 22.6H176.0M175.5 21.3V23.8M176.0 22.8H176.9M176.4 21.6V24.1M176.9 22.2H177.8M177.3 21.0V23.5M177.8 23.6H178.7M178.2 22.4V24.9M178.7 24.4H179.5M179.1 23.1V25.7M179.5 24.3H180.4M180.0 23.1V25.6M180.4 24.5H181.3M180.9 23.2V25.8M181.3 24.6H182.2M181.8 23.3V25.9M182.2 24.9H183.1M182.7 23.7V26.2M183.1 25.0H184.0M183.6 23.8V26.3M184.0 26.6H184.9M184.5 25.3V27.9M184.9 25.0H185.8M185.4 23.7V26.3M185.8 26.1H186.7M186.3 24.8V27.5M186.7 26.7H187.6M187.2 25.4V28.0M187.6 25.5H188.5M188.1 24.2V26.9M188.5 25.2H189.4M189.0 23.9V26.5M189.4 25.9H190.3M189.9 24.6V27.3M190.3 26.3H191.2M190.8 25.0V27.6M191.2 27.2H192.1M191.7 25.9V28.6M192.1 25.3H193.0M192.6 24.0V26.7M193.0 26.2H193.9M193.5 24.9V27.5M193.9 27.8H194.8M194.4 26.5V29.2M194.8 27.7H195.7M195.3 26.4V29.1M195.7 27.1H196.6M196.1 25.8V28.5M196.6 28.6H197.5M197.0 27.2V30.0M197.5 27.4H198.4M197.9 26.0V28.8M198.4 28.1H199.3M198.8 26.8V29.5M199.3 27.2H200.2M199.7 25.8V28.6M200.2 27.6H201.1M200.6 26.3V29.0M201.1 30.2H202.0M201.5 28.9V31.6M202.0 28.9H202.9M202.4 27.6V30.3M202.9 30.6H203.8M203.3 29.3V32.0M203.8 28.7H204.7M204.2 27.3V30.1M204.7 29.7H205.6M205.1 28.4V31.1M205.6 29.7H206.5M206.0 28.3V31.1M206.5 31.3H207.4M206.9 30.0V32.8M207.4 29.2H208.3M207.8 27.9V30.6M208.3 29.4H209.2M208.7 28.1V30.8M209.2 32.2H210.1M209.6 30.9V33.6M210.1 31.2H211.0M210.5 29.9V32.6M211.0 32.5H211.9M211.4 31.1V33.9M211.9 32.2H212.7M212.3 30.8V33.6M212.7 33.6H213.6M213.2 32.3V35.0M213.6 31.0H214.5M214.1 29.7V32.4M214.5 33.9H215.4M215.0 32.6V35.3M215.4 33.6H216.3M215.9 32.3V35.0M216.3 33.1H217.2M216.8 31.8V34.5M217.2 34.5H218.1M217.7 33.2V35.9M218.1 34.4H219.0M218.6 33.1V35.8M219.0 35.1H219.9M219.5 33.8V36.5M219.9 34.9H220.8M220.4 33.6V36.3M220.8 36.3H221.7M221.3 35.0V37.7M221.7 35.9H222.6M222.2 34.5V37.3M222.6 35.9H223.5M223.1 34.6V37.3M223.5 36.4H224.4M224.0 35.0V37.7M224.4 36.4H225.3M224.9 35.1V37.8M225.3 37.3H226.2M225.8 36.0V38.7M226.2 36.6H227.1M226.7 35.3V38.0M227.1 38.3H228.0M227.6 37.0V39.7M228.0 38.5H228.9M228.5 37.2V39.9M228.9 39.7H229.8M229.3 38.4V41.0M229.8 40.0H230.7M230.2 38.7V41.4M230.7 41.4H231.6M231.1 40.1V42.8M231.6 39.7H232.5M232.0 38.4V41.1M232.5 42.5H233.4M232.9 41.2V43.9M233.4 42.8H234.3M233.8 41.5V44.1M234.3 42.1H235.2M234.7 40.9V43.5M235.2 42.8H236.1M235.6 41.5V44.2M236.1 44.6H237.0M236.5 43.3V45.9M237.0 47.4H237.9M237.4 46.1V48.7M237.9 45.0H238.8M238.3 43.7V46.3M238.8 45.7H239.7M239.2 44.5V47.1" stroke="#000" stroke-width="0.85" fill="none"/><path d="M27.9 8.8H28.8M28.3 8.0V9.7M28.8 9.1H29.7M29.2 8.3V9.9M29.7 9.1H30.6M30.1 8.2V9.9M30.6 9.6H31.5M31.0 8.8V10.5M31.5 8.2H32.4M31.9 7.4V9.1M32.4 8.5H33.3M32.8 7.7V9.3M33.3 9.0H34.2M33.7 8.2V9.9M34.2 8.6H35.1M34.6 7.8V9.5M35.1 8.8H36.0M35.5 8.0V9.7M36.0 9.1H36.9M36.4 8.3V10.0M36.9 8.5H37.8M37.3 7.7V9.4M37.8 9.0H38.7M38.2 8.2V9.9M38.7 9.0H39.6M39.1 8.2V9.9M39.6 9.2H40.5M40.0 8.4V10.1M40.5 8.7H41.4M40.9 7.9V9.6M41.4 8.9H42.3M41.8 8.1V9.8M42.3 8.7H43.2M42.7 7.8V9.6M43.2 9.1H44.1M43.6 8.3V10.0M44.1 8.9H44.9M44.5 8.0V9.7M44.9 9.3H45.8M45.4 8.4V10.1M45.8 8.6H46.7M46.3 7.7V9.5M46.7 8.8H47.6M47.2 8.0V9.7M47.6 8.8H48.5M48.1 7.9V9.7M48.5 8.7H49.4M49.0 7.9V9.6M49.4 9.3H50.3M49.9 8.5V10.2M50.3 8.6H51.2M50.8 7.7V9.5M51.2 8.1H52.1M51.7 7.2V9.0M52.1 9.5H53.0M52.6 8.6V10.4M53.0 9.5H53.9M53.5 8.6V10.4M53.9 9.4H54.8M54.4 8.5V10.3M54.8 8.4H55.7M55.3 7.5V9.3M55.7 8.7H56.6M56.2 7.8V9.6M56.6 8.2H57.5M57.1 7.4V9.2M57.5 8.4H58.4M58.0 7.5V9.3M58.4 8.5H59.3M58.9 7.7V9.5M59.3 8.5H60.2M59.8 7.6V9.4M60.2 8.6H61.1M60.7 7.8V9.6M61.1 8.2H62.0M61.5 7.3V9.1M62.0 9.0H62.9M62.4 8.1V9.9M62.9 8.6H63.8M63.3 7.8V9.6M63.8 8.2H64.7M64.2 7.4V9.2M64.7 7.5H65.6M65.1 6.6V8.4M65.6 8.4H66.5M66.0 7.6V9.4M66.5 8.5H67.4M66.9 7.6V9.4M67.4 8.1H68.3M67.8 7.2V9.1M68.3 7.4H69.2M68.7 6.5V8.3M69.2 7.8H70.1M69.6 6.9V8.7M70.1 7.0H71.0M70.5 6.1V7.9M71.0 8.3H71.9M71.4 7.4V9.2M71.9 6.9H72.8M72.3 6.0V7.8M72.8 6.8H73.7M73.2 5.9V7.7M73.7 7.7H74.6M74.1 6.8V8.7M74.6 6.9H75.5M75.0 6.0V7.9M75.5 6.5H76.4M75.9 5.6V7.5M76.4 7.0H77.3M76.8 6.1V8.0M77.3 6.7H78.2M77.7 5.7V7.6M78.2 6.3H79.0M78.6 5.4V7.3M79.0 7.0H79.9M79.5 6.1V8.0M79.9 7.3H80.8M80.4 6.4V8.3M80.8 7.6H81.7M81.3 6.7V8.5M81.7 7.0H82.6M82.2 6.0V7.9M82.6 7.4H83.5M83.1 6.5V8.3M83.5 7.4H84.4M84.0 6.5V8.4M84.4 7.4H85.3M84.9 6.5V8.4M85.3 7.1H86.2M85.8 6.2V8.1M86.2 7.9H87.1M86.7 7.0V8.9M87.1 8.2H88.0M87.6 7.2V9.1M88.0 8.4H88.9M88.5 7.4V9.3M88.9 7.0H89.8M89.4 6.1V8.0M89.8 7.6H90.7M90.3 6.6V8.6M90.7 7.0H91.6M91.2 6.1V8.0M91.6 7.8H92.5M92.1 6.8V8.7M92.5 8.2H93.4M93.0 7.2V9.2M93.4 7.7H94.3M93.9 6.8V8.7M94.3 8.0H95.2M94.8 7.1V9.0M95.2 8.7H96.1M95.6 7.7V9.7M96.1 8.6H97.0M96.5 7.6V9.6M97.0 7.4H97.9M97.4 6.5V8.4M97.9 8.1H98.8M98.3 7.2V9.1M98.8 8.2H99.7M99.2 7.2V9.2M99.7 8.6H100.6M100.1 7.6V9.6M100.6 8.9H101.5M101.0 7.9V9.9M101.5 8.2H102.4M101.9 7.2V9.2M102.4 8.7H103.3M102.8 7.8V9.8M103.3 9.1H104.2M103.7 8.2V10.2M104.2 8.9H105.1M104.6 7.9V10.0M105.1 9.4H106.0M105.5 8.4V10.4M106.0 8.9H106.9M106.4 7.9V10.0M106.9 8.5H107.8M107.3 7.5V9.6M107.8 9.6H108.7M108.2 8.6V10.7M108.7 8.5H109.6M109.1 7.5V9.6M109.6 9.7H110.5M110.0 8.7V10.8M110.5 9.3H111.4M110.9 8.3V10.4M111.4 10.0H112.2M111.8 8.9V11.1M112.2 9.7H113.1M112.7 8.7V10.8M113.1 9.6H114.0M113.6 8.6V10.8M114.0 10.0H114.9M114.5 8.9V11.1M114.9 10.2H115.8M115.4 9.2V11.4M115.8 10.3H116.7M116.3 9.2V11.5M116.7 10.5H117.6M117.2 9.4V11.7M117.6 11.0H118.5M118.1 9.9V12.2M118.5 10.4H119.4M119.0 9.3V11.6M119.4 10.1H120.3M119.9 9.0V11.3M120.3 9.9H121.2M120.8 8.8V11.1M121.2 10.2H122.1M121.7 9.0V11.4M122.1 9.5H123.0M122.6 8.4V10.7M123.0 10.5H123.9M123.5 9.4V11.8M123.9 11.1H124.8M124.4 10.0V12.3M124.8 9.8H125.7M125.3 8.7V11.1M125.7 11.7H126.6M126.2 10.5V12.9M126.6 10.5H127.5M127.1 9.4V11.8M127.5 11.8H128.4M128.0 10.6V13.1M128.4 11.1H129.3M128.8 9.9V12.4M129.3 12.6H130.2M129.7 11.5V13.9M130.2 11.0H131.1M130.6 9.8V12.2M131.1 11.7H132.0M131.5 10.5V13.0M132.0 12.3H132.9M132.4 11.1V13.6M132.9 10.8H133.8M133.3 9.5V12.1M133.8 11.4H134.7M134.2 10.2V12.7M134.7 12.0H135.6M135.1 10.8V13.3M135.6 12.7H136.5M136.0 11.4V14.0M136.5 12.4H137.4M136.9 11.1V13.7M137.4 12.6H138.3M137.8 11.4V14.0M138.3 12.2H139.2M138.7 10.9V13.6M139.2 12.3H140.1M139.6 11.1V13.7M140.1 13.5H141.0M140.5 12.2V14.9M141.0 13.6H141.9M141.4 12.3V14.9M141.9 13.7H142.8M142.3 12.4V15.1M142.8 14.5H143.7M143.2 13.2V15.9M143.7 14.1H144.6M144.1 12.8V15.5M144.6 13.9H145.4M145.0 12.6V15.3M145.4 13.5H146.3M145.9 12.2V15.0M146.3 13.3H147.2M146.8 11.9V14.7M147.2 15.0H148.1M147.7 13.6V16.4M148.1 14.1H149.0M148.6 12.8V15.6M149.0 15.0H149.9M149.5 13.7V16.5M149.9 13.5H150.8M150.4 12.2V15.0M150.8 15.1H151.7M151.3 13.7V16.5M151.7 14.9H152.6M152.2 13.5V16.3M152.6 16.1H153.5M153.1 14.7V17.6M153.5 16.2H154.4M154.0 14.8V17.7M154.4 15.6H155.3M154.9 14.2V17.1M155.3 16.2H156.2M155.8 14.8V17.7M156.2 15.8H157.1M156.7 14.4V17.3M157.1 17.5H158.0M157.6 16.1V19.1M158.0 15.9H158.9M158.5 14.5V17.5M158.9 17.4H159.8M159.4 15.9V18.9M159.8 15.5H160.7M160.3 14.0V17.0M160.7 17.2H161.6M161.2 15.7V18.8M161.6 16.3H162.5M162.1 14.8V17.9M162.5 18.5H163.4M162.9 17.0V20.1M163.4 17.1H164.3M163.8 15.7V18.8M164.3 18.4H165.2M164.7 16.9V20.0M165.2 18.3H166.1M165.6 16.8V19.9M166.1 18.0H167.0M166.5 16.5V19.6M167.0 18.5H167.9M167.4 16.9V20.1M167.9 18.1H168.8M168.3 16.6V19.8M168.8 17.9H169.7M169.2 16.4V19.6M169.7 18.2H170.6M170.1 16.6V19.8M170.6 19.0H171.5M171.0 17.5V20.7M171.5 20.4H172.4M171.9 18.8V22.1M172.4 20.1H173.3M172.8 18.5V21.8M173.3 19.8H174.2M173.7 18.2V21.5M174.2 21.6H175.1M174.6 20.0V23.3M175.1 19.4H176.0M175.5 17.7V21.1M176.0 20.5H176.9M176.4 18.8V22.2M176.9 20.7H177.8M177.3 19.1V22.4M177.8 19.8H178.7M178.2 18.2V21.6M178.7 20.3H179.5M179.1 18.6V22.0M179.5 20.9H180.4M180.0 19.2V22.7M180.4 22.3H181.3M180.9 20.6V24.1M181.3 21.2H182.2M181.8 19.6V23.0M182.2 21.4H183.1M182.7 19.7V23.2M183.1 22.8H184.0M183.6 21.1V24.6M184.0 21.2H184.9M184.5 19.5V23.0M184.9 21.9H185.8M185.4 20.2V23.8M185.8 24.6H186.7M186.3 22.9V26.4M186.7 22.8H187.6M187.2 21.0V24.6M187.6 24.4H188.5M188.1 22.7V26.3M188.5 22.3H189.4M188.9 20.5V24.1M189.4 22.8H190.2M189.8 21.1V24.7M190.2 25.0H191.1M190.7 23.2V26.9M191.1 25.0H192.0M191.5 23.2V26.9M192.0 24.2H192.8M192.4 22.4V26.1M192.8 24.8H193.7M193.2 23.0V26.7M193.7 23.2H194.5M194.1 21.4V25.2M194.5 24.2H195.3M194.9 22.4V26.2M195.3 25.5H196.2M195.8 23.7V27.5M196.2 24.8H197.0M196.6 23.0V26.8M197.0 27.7H197.8M197.4 25.9V29.7M197.8 25.6H198.7M198.2 23.8V27.6M198.7 25.5H199.5M199.1 23.6V27.5M199.5 27.0H200.3M199.9 25.1V29.0M200.3 28.0H201.1M200.7 26.2V30.0M201.1 27.0H201.9M201.5 25.2V29.0M201.9 26.0H202.7M202.3 24.2V28.1M202.7 28.3H203.5M203.1 26.4V30.3M203.5 30.2H204.3M203.9 28.4V32.2M204.3 27.7H205.0M204.7 25.9V29.7M205.0 31.9H205.8M205.4 30.1V33.9M205.8 29.3H206.6M206.2 27.4V31.3M206.6 30.8H207.4M207.0 28.9V32.8M207.4 29.2H208.1M207.7 27.3V31.2M208.1 31.5H208.9M208.5 29.7V33.6M208.9 29.1H209.6M209.3 27.3V31.1M209.6 30.5H210.4M210.0 28.7V32.5M210.4 33.4H211.1M210.8 31.6V35.4M211.1 33.9H211.9M211.5 32.1V35.9M211.9 31.9H212.6M212.3 30.1V34.0M212.6 30.1H213.4M213.0 28.3V32.1M213.4 31.8H214.1M213.7 29.9V33.8M214.1 32.1H214.8M214.5 30.2V34.1M214.8 32.7H215.6M215.2 30.8V34.7M215.6 31.6H216.3M215.9 29.8V33.6M216.3 32.3H217.0M216.6 30.4V34.3M217.0 32.6H217.7M217.4 30.8V34.6M217.7 34.6H218.4M218.1 32.8V36.6M218.4 31.8H219.1M218.8 30.0V33.8M219.1 31.8H219.8M219.5 29.9V33.8M219.8 35.8H220.5M220.2 34.0V37.8M220.5 31.5H221.2M220.9 29.6V33.4M221.2 33.2H221.9M221.6 31.4V35.2M221.9 35.2H222.6M222.3 33.4V37.2M222.6 37.7H223.3M223.0 35.9V39.7M223.3 33.9H224.0M223.6 32.1V35.9M224.0 34.3H224.7M224.3 32.5V36.3M224.7 36.5H225.3M225.0 34.7V38.5M225.3 38.9H226.0M225.7 37.1V40.9M226.0 34.6H226.7M226.3 32.7V36.5M226.7 37.6H227.3M227.0 35.8V39.6M227.3 37.7H228.0M227.7 35.9V39.7M228.0 34.5H228.7M228.3 32.7V36.4M228.7 34.8H229.3M229.0 33.0V36.8M229.3 36.5H230.0M229.7 34.7V38.5M230.0 39.2H230.6M230.3 37.3V41.1M230.6 37.7H231.3M231.0 35.9V39.7M231.3 42.5H231.9M231.6 40.7V44.5M231.9 39.3H232.6M232.2 37.5V41.3M232.6 41.4H233.2M232.9 39.6V43.4M233.2 43.0H233.8M233.5 41.2V45.0M233.8 44.2H234.5M234.2 42.4V46.2M234.5 41.0H235.1M234.8 39.2V42.9M235.1 42.3H235.7M235.4 40.5V44.2M235.7 42.7H236.4M236.0 40.9V44.7M236.4 42.1H237.0M236.7 40.3V44.1M237.0 45.7H237.6M237.3 43.9V47.7M237.6 47.1H238.2M237.9 45.3V49.0M238.2 48.7H238.8M238.5 47.0V50.7M238.8 46.4H239.4M239.1 44.6V48.3M239.4 44.9H240.0M239.7 43.1V46.8" stroke="#ff8a30" stroke-width="0.95" fill="none"/><path d="M240.0 47.1H240.6M240.3 45.3V49.0M240.6 46.1H241.3M241.0 44.3V48.1M241.3 50.2H241.9M241.6 48.3V52.2M241.9 49.2H242.5M242.2 47.4V51.2M242.5 50.3H243.0M242.7 48.5V52.4M243.0 51.7H243.6M243.3 49.8V53.8M243.6 45.9H244.2M243.9 44.0V48.0M244.2 47.8H244.8M244.5 45.9V49.9M244.8 51.2H245.4M245.1 49.3V53.4M245.4 51.5H246.0M245.7 49.5V53.6M246.0 50.1H246.6M246.3 48.2V52.3M246.6 53.4H247.1M246.9 51.4V55.6M247.1 49.5H247.7M247.4 47.5V51.7M247.7 53.5H248.3M248.0 51.5V55.7M248.3 51.5H248.9M248.6 49.5V53.8M248.9 53.2H249.4M249.1 51.2V55.5M249.4 52.1H250.0M249.7 50.1V54.4M250.0 54.4H250.6M250.3 52.3V56.6M250.6 55.2H251.1M250.8 53.1V57.5M251.1 53.9H251.7M251.4 51.8V56.2M251.7 53.4H252.2M252.0 51.2V55.7M252.2 52.6H252.8M252.5 50.5V55.0M252.8 52.0H253.3M253.1 49.9V54.4M253.3 49.1H253.9M253.6 47.0V51.5M253.9 50.7H254.4M254.2 48.6V53.2M254.4 53.3H255.0M254.7 51.1V55.7M255.0 51.3H255.5M255.3 49.1V53.7M255.5 54.8H256.1M255.8 52.5V57.2M256.1 50.1H256.6M256.3 47.9V52.6M256.6 52.2H257.2M256.9 49.9V54.7M257.2 57.1H257.7M257.4 54.9V59.7M257.7 52.1H258.2M258.0 49.8V54.6M258.2 52.1H258.8M258.5 49.8V54.7M258.8 59.4H259.3M259.0 57.1V61.9M259.3 56.3H259.8M259.5 53.9V58.9M259.8 55.7H260.3M260.1 53.4V58.3M260.3 60.0H260.9M260.6 57.7V62.6M260.9 57.7H261.4M261.1 55.3V60.4M261.4 57.6H261.9M261.6 55.2V60.2M261.9 54.0H262.4M262.2 51.6V56.7M262.4 54.6H262.9M262.7 52.2V57.3M262.9 51.2H263.4M263.2 48.7V53.9M263.4 56.8H264.0M263.7 54.3V59.5M264.0 53.1H264.5M264.2 50.6V55.8M264.5 55.9H265.0M264.7 53.4V58.6M265.0 55.5H265.5M265.2 53.1V58.3M265.5 59.7H266.0M265.7 57.2V62.5M266.0 62.3H266.5M266.2 59.8V65.1M266.5 58.9H267.0M266.7 56.4V61.7M267.0 54.9H267.5M267.2 52.4V57.8M267.5 53.2H268.0M267.7 50.6V56.0M268.0 55.6H268.5M268.2 53.1V58.5M268.5 56.1H269.0M268.7 53.5V59.0M269.0 60.0H269.5M269.2 57.4V62.9M269.5 53.8H270.0M269.7 51.2V56.8M270.0 54.5H270.5M270.2 51.9V57.4M270.5 59.7H270.9M270.7 57.1V62.7M270.9 58.6H271.4M271.2 56.0V61.6M271.4 61.7H271.9M271.7 59.1V64.8M271.9 55.2H272.4M272.1 52.6V58.3M272.4 58.2H272.9M272.6 55.5V61.2M272.9 59.8H273.3M273.1 57.2V62.9M273.3 58.7H273.8M273.6 56.0V61.8M273.8 58.9H274.3M274.1 56.2V62.0M274.3 61.6H274.8M274.5 58.9V64.7M274.8 64.6H275.2M275.0 61.9V67.7M275.2 65.0H275.7M275.5 62.3V68.2M275.7 67.0H276.2M275.9 64.3V70.2M276.2 60.1H276.7M276.4 57.4V63.3M276.7 56.7H277.1M276.9 53.9V59.9M277.1 67.8H277.6M277.3 65.0V71.0M277.6 61.8H278.0M277.8 59.0V65.1M278.0 61.3H278.5M278.3 58.5V64.6M278.5 66.0H279.0M278.7 63.1V69.2M279.0 62.4H279.4M279.2 59.6V65.7M279.4 66.9H279.9M279.7 64.1V70.2M279.9 60.1H280.3M280.1 57.3V63.4M280.3 65.6H280.8M280.6 62.8V69.0M280.8 63.6H281.2M281.0 60.8V67.0M281.2 62.1H281.7M281.5 59.2V65.4M281.7 65.7H282.1M281.9 62.8V69.0M282.1 70.9H282.6M282.4 68.0V74.3M282.6 66.4H283.0M282.8 63.5V69.8M283.0 62.7H283.5M283.3 59.7V66.0M283.5 65.4H283.9M283.7 62.5V68.7M283.9 64.6H284.4M284.1 61.7V68.0M284.4 69.2H284.8M284.6 66.2V72.5M284.8 65.2H285.2M285.0 62.3V68.6M285.2 63.7H285.7M285.5 60.8V67.1M285.7 65.9H286.1M285.9 63.0V69.3M286.1 60.9H286.6M286.3 58.0V64.4M286.6 67.1H287.0M286.8 64.1V70.5M287.0 70.2H287.4M287.2 67.2V73.6M287.4 72.7H287.9M287.6 69.7V76.1M287.9 63.6H288.3M288.1 60.6V67.0M288.3 67.4H288.7M288.5 64.4V70.8M288.7 64.4H289.1M288.9 61.4V67.8M289.1 66.1H289.6M289.4 63.1V69.6M289.6 63.1H290.0M289.8 60.1V66.5M290.0 64.2H290.4M290.2 61.2V67.7M290.4 69.4H290.8M290.6 66.4V72.8M290.8 67.4H291.3M291.0 64.4V70.9M291.3 65.2H291.7M291.5 62.2V68.7M291.7 73.1H292.1M291.9 70.0V76.6M292.1 64.6H292.5M292.3 61.5V68.1M292.5 65.4H292.9M292.7 62.4V68.9M292.9 66.2H293.3M293.1 63.2V69.7M293.3 70.0H293.8M293.5 67.0V73.6M293.8 68.6H294.2M294.0 65.5V72.1M294.2 73.7H294.6M294.4 70.7V77.3M294.6 69.7H295.0M294.8 66.7V73.3M295.0 72.1H295.4M295.2 69.0V75.7M295.4 69.9H295.8M295.6 66.9V73.5M295.8 72.1H296.2M296.0 69.0V75.6M296.2 69.6H296.6M296.4 66.5V73.2M296.6 67.1H297.0M296.8 64.0V70.7M297.0 75.7H297.4M297.2 72.6V79.2M297.4 68.1H297.8M297.6 65.0V71.7M297.8 78.6H298.2M298.0 75.5V82.2M298.2 78.7H298.6M298.4 75.6V82.3M298.6 71.8H299.0M298.8 68.7V75.4M299.0 71.5H299.4M299.2 68.4V75.2M299.4 70.3H299.8M299.6 67.1V73.9M299.8 78.2H300.2M300.0 75.1V81.9M300.2 72.2H300.6M300.4 69.1V75.8M300.6 71.7H301.0M300.8 68.6V75.4M301.0 68.4H301.4M301.2 65.3V72.1M301.4 72.8H301.8M301.6 69.6V76.4M301.8 70.8H302.2M302.0 67.7V74.5M302.2 76.3H302.5M302.4 73.1V80.0M302.5 73.5H302.9M302.7 70.3V77.2M302.9 74.6H303.3M303.1 71.4V78.2M303.3 70.8H303.7M303.5 67.7V74.6M303.7 76.9H304.1M303.9 73.8V80.6M304.1 76.5H304.5M304.3 73.3V80.2M304.5 71.7H304.9M304.7 68.5V75.4M304.9 68.3H305.2M305.0 65.1V72.0M305.2 72.5H305.6M305.4 69.4V76.3M305.6 72.9H306.0M305.8 69.7V76.7M306.0 75.3H306.4M306.2 72.1V79.1M306.4 70.8H306.7M306.6 67.6V74.5M306.7 72.6H307.1M306.9 69.4V76.3M307.1 69.2H307.5M307.3 66.0V73.0M307.5 73.5H307.9M307.7 70.3V77.3M307.9 78.4H308.2M308.1 75.1V82.1M308.2 77.0H308.6M308.4 73.8V80.8M308.6 78.8H309.0M308.8 75.6V82.6M309.0 80.1H309.3M309.2 76.8V83.9M309.3 71.3H309.7M309.5 68.1V75.1M309.7 72.8H310.1M309.9 69.6V76.6M310.1 80.4H310.5M310.3 77.2V84.2M310.5 70.2H310.8M310.6 66.9V74.0M310.8 75.0H311.2M311.0 71.7V78.8M311.2 79.6H311.5M311.4 76.3V83.4M311.5 74.7H311.9M311.7 71.4V78.5M311.9 76.4H312.3M312.1 73.1V80.2M312.3 79.2H312.6M312.5 75.9V83.0M312.6 84.4H313.0M312.8 81.1V88.3M313.0 76.3H313.3M313.2 73.0V80.2M313.3 75.5H313.7M313.5 72.3V79.4M313.7 84.8H314.1M313.9 81.5V88.6M314.1 74.9H314.4M314.2 71.6V78.8M314.4 74.8H314.8M314.6 71.5V78.7M314.8 78.7H315.1M315.0 75.4V82.6M315.1 76.7H315.5M315.3 73.4V80.6M315.5 78.2H315.8M315.7 74.9V82.1M315.8 80.5H316.2M316.0 77.2V84.5M316.2 78.7H316.5M316.4 75.4V82.7M316.5 73.1H316.9M316.7 69.8V77.1M316.9 83.6H317.2M317.1 80.3V87.5M317.2 76.9H317.6M317.4 73.5V80.8M317.6 77.2H317.9M317.8 73.8V81.1M317.9 80.7H318.3M318.1 77.3V84.6M318.3 79.7H318.6M318.5 76.3V83.7M318.6 83.9H319.0M318.8 80.6V87.9M319.0 81.6H319.3M319.1 78.2V85.6M319.3 78.3H319.7M319.5 74.9V82.3M319.7 77.3H320.0M319.8 73.9V81.3M320.0 82.1H320.3M320.2 78.7V86.1M320.3 72.7H320.7M320.5 69.3V76.7M320.7 81.0H321.0M320.8 77.6V85.0M321.0 78.5H321.4M321.2 75.1V82.5M321.4 80.0H321.7M321.5 76.6V84.0M321.7 80.8H322.0M321.9 77.4V84.8M322.0 75.1H322.4M322.2 71.6V79.1M322.4 81.4H322.7M322.5 77.9V85.4M322.7 75.2H323.0M322.9 71.8V79.2M323.0 75.9H323.4M323.2 72.5V80.0M323.4 84.2H323.7M323.5 80.8V88.2M323.7 76.5H324.0M323.9 73.1V80.6M324.0 82.7H324.4M324.2 79.3V86.8M324.4 74.2H324.7M324.5 70.8V78.3M324.7 81.9H325.0M324.9 78.5V86.0M325.0 84.4H325.4M325.2 81.0V88.5M325.4 89.3H325.7M325.5 85.8V93.4M325.7 86.3H326.0M325.9 82.9V90.4M326.0 83.3H326.3M326.2 79.8V87.4M326.3 85.2H326.7M326.5 81.8V89.4M326.7 86.4H327.0M326.8 83.0V90.6M327.0 84.2H327.3M327.2 80.7V88.3M327.3 82.3H327.6M327.5 78.8V86.5M327.6 76.7H328.0M327.8 73.2V80.9M328.0 89.4H328.3M328.1 85.9V93.6M328.3 84.1H328.6M328.5 80.6V88.3M328.6 86.0H328.9M328.8 82.5V90.2M328.9 88.9H329.3M329.1 85.4V93.1M329.3 87.8H329.6M329.4 84.2V92.0M329.6 86.2H329.9M329.7 82.6V90.4M329.9 79.9H330.2M330.0 76.4V84.2M330.2 83.4H330.5M330.4 79.8V87.7M330.5 85.0H330.8M330.7 81.4V89.2M330.8 80.6H331.2M331.0 77.1V84.9M331.2 82.0H331.5M331.3 78.4V86.3M331.5 84.0H331.8M331.6 80.4V88.4M331.8 81.8H332.1M331.9 78.2V86.1M332.1 86.9H332.4M332.3 83.3V91.3M332.4 81.2H332.7M332.6 77.6V85.5M332.7 81.9H333.0M332.9 78.3V86.2M333.0 85.5H333.3M333.2 81.8V89.8M333.3 89.4H333.7M333.5 85.7V93.7M333.7 78.7H334.0M333.8 75.0V83.1M334.0 83.8H334.3M334.1 80.1V88.2M334.3 77.8H334.6M334.4 74.1V82.2M334.6 87.2H334.9M334.7 83.5V91.6M334.9 81.3H335.2M335.0 77.7V85.8M335.2 86.5H335.5M335.4 82.8V90.9M335.5 83.9H335.8M335.7 80.2V88.3M335.8 81.9H336.1M336.0 78.2V86.3M336.1 88.7H336.4M336.3 85.0V93.1M336.4 85.8H336.7M336.6 82.0V90.2M336.7 84.9H337.0M336.9 81.1V89.4M337.0 85.2H337.3M337.2 81.5V89.7M337.3 83.5H337.6M337.5 79.8V88.0M337.6 82.2H337.9M337.8 78.4V86.7M337.9 83.0H338.2M338.1 79.2V87.5M338.2 85.3H338.5M338.4 81.5V89.8M338.5 88.0H338.8M338.7 84.2V92.5M338.8 91.9H339.1M339.0 88.1V96.4M339.1 90.1H339.4M339.3 86.3V94.6M339.4 89.3H339.7M339.6 85.5V93.9M339.7 84.5H340.0M339.9 80.7V89.1M340.0 88.8H340.3M340.2 85.0V93.5M340.3 93.3H340.6M340.5 89.5V98.0M340.6 85.1H340.9M340.8 81.3V89.8M340.9 91.4H341.2M341.0 87.6V96.0M341.2 91.4H341.5M341.3 87.6V96.0M341.5 89.0H341.8M341.6 85.2V93.7M341.8 86.3H342.1M341.9 82.5V91.0M342.1 98.4H342.4M342.2 94.5V103.0M342.4 93.9H342.7M342.5 90.0V98.6M342.7 88.0H342.9M342.8 84.1V92.7M342.9 90.5H343.2M343.1 86.6V95.2M343.2 93.0H343.5M343.4 89.1V97.7M343.5 91.6H343.8M343.7 87.7V96.3M343.8 84.1H344.1M344.0 80.2V88.8M344.1 91.5H344.4M344.2 87.6V96.3M344.4 86.8H344.7M344.5 82.9V91.5M344.7 86.6H345.0M344.8 82.7V91.4M345.0 92.0H345.2M345.1 88.0V96.7M345.2 88.3H345.5M345.4 84.3V93.1M345.5 92.3H345.8M345.7 88.3V97.1M345.8 93.2H346.1M346.0 89.3V98.0M346.1 96.1H346.4M346.2 92.1V100.9M346.4 87.2H346.7M346.5 83.2V92.0M346.7 92.7H346.9M346.8 88.7V97.5M346.9 93.6H347.2M347.1 89.6V98.4M347.2 96.7H347.5M347.4 92.7V101.6M347.5 84.6H347.8M347.6 80.6V89.4M347.8 88.4H348.1M347.9 84.4V93.3M348.1 92.1H348.3M348.2 88.1V97.0" stroke="#ff8a30" stroke-width="0.95" fill="none"/><path d="M239.7 48.6H240.6M240.1 47.3V50.0M240.6 46.2H241.5M241.0 45.0V47.6M241.5 48.8H242.4M241.9 47.5V50.1M242.4 49.9H243.3M242.8 48.6V51.3M243.3 48.5H244.1M243.7 47.2V49.9M244.1 49.1H245.0M244.6 47.8V50.5M245.0 48.9H245.9M245.5 47.5V50.3M245.9 51.7H246.8M246.3 50.3V53.1M246.8 47.2H247.6M247.2 45.9V48.6M247.6 50.6H248.5M248.1 49.3V52.1M248.5 52.3H249.3M248.9 50.9V53.7M249.3 49.4H250.2M249.8 48.0V50.8M250.2 50.9H251.0M250.6 49.6V52.4M251.0 50.2H251.9M251.5 48.8V51.7M251.9 51.4H252.7M252.3 50.0V52.8M252.7 51.2H253.5M253.1 49.8V52.7M253.5 51.0H254.4M254.0 49.7V52.5M254.4 52.7H255.2M254.8 51.3V54.2M255.2 50.9H256.0M255.6 49.5V52.4M256.0 52.8H256.8M256.4 51.4V54.3M256.8 53.7H257.6M257.2 52.3V55.2M257.6 52.5H258.4M258.0 51.1V54.0M258.4 52.2H259.2M258.8 50.8V53.7M259.2 53.4H260.0M259.6 52.0V54.9M260.0 54.6H260.8M260.4 53.2V56.1M260.8 52.6H261.6M261.2 51.2V54.1M261.6 56.5H262.3M262.0 55.0V58.0M262.3 55.5H263.1M262.7 54.0V57.0M263.1 54.0H263.9M263.5 52.6V55.6M263.9 56.4H264.6M264.3 55.0V58.0M264.6 54.4H265.4M265.0 52.9V56.0M265.4 54.7H266.2M265.8 53.3V56.3M266.2 53.5H266.9M266.5 52.0V55.1M266.9 56.5H267.7M267.3 55.0V58.1M267.7 56.2H268.4M268.0 54.7V57.8M268.4 54.9H269.2M268.8 53.4V56.5M269.2 58.8H269.9M269.5 57.3V60.4M269.9 53.0H270.6M270.3 51.5V54.6M270.6 57.1H271.4M271.0 55.5V58.7M271.4 57.3H272.1M271.7 55.8V58.9M272.1 54.9H272.8M272.4 53.4V56.6M272.8 56.5H273.5M273.2 55.0V58.1M273.5 59.6H274.2M273.9 58.1V61.3M274.2 55.8H274.9M274.6 54.2V57.4M274.9 55.6H275.6M275.3 54.0V57.3M275.6 57.8H276.3M276.0 56.3V59.5M276.3 57.7H277.0M276.7 56.1V59.4M277.0 56.6H277.7M277.4 55.1V58.3M277.7 59.1H278.4M278.1 57.5V60.8M278.4 57.0H279.1M278.8 55.4V58.7M279.1 57.6H279.8M279.5 56.0V59.3M279.8 59.2H280.5M280.2 57.6V60.9M280.5 60.7H281.2M280.8 59.1V62.4M281.2 58.8H281.8M281.5 57.2V60.5M281.8 60.1H282.5M282.2 58.5V61.8M282.5 57.1H283.2M282.9 55.5V58.9M283.2 58.7H283.9M283.5 57.1V60.5M283.9 57.8H284.5M284.2 56.2V59.6M284.5 59.1H285.2M284.8 57.4V60.8M285.2 59.0H285.8M285.5 57.4V60.8M285.8 61.0H286.5M286.2 59.4V62.8M286.5 58.7H287.1M286.8 57.0V60.5M287.1 57.1H287.8M287.5 55.4V58.9M287.8 60.7H288.4M288.1 59.0V62.5M288.4 61.4H289.1M288.8 59.7V63.2M289.1 60.8H289.7M289.4 59.1V62.6M289.7 61.5H290.3M290.0 59.8V63.4M290.3 62.1H291.0M290.7 60.4V64.0M291.0 60.8H291.6M291.3 59.1V62.6M291.6 61.7H292.2M291.9 60.0V63.6M292.2 58.9H292.9M292.6 57.2V60.8M292.9 61.5H293.5M293.2 59.8V63.4M293.5 61.1H294.1M293.8 59.4V63.0M294.1 60.2H294.7M294.4 58.4V62.1M294.7 62.6H295.3M295.0 60.8V64.5M295.3 59.7H295.9M295.6 57.9V61.6M295.9 63.6H296.6M296.2 61.8V65.5M296.6 64.1H297.2M296.9 62.3V66.0M297.2 63.4H297.8M297.5 61.6V65.4M297.8 63.1H298.4M298.1 61.3V65.1M298.4 65.9H299.0M298.7 64.1V67.8M299.0 63.3H299.6M299.3 61.5V65.3M299.6 66.8H300.1M299.8 65.0V68.8M300.1 61.1H300.7M300.4 59.3V63.1M300.7 64.0H301.3M301.0 62.1V65.9M301.3 65.2H301.9M301.6 63.4V67.2M301.9 66.0H302.5M302.2 64.1V68.0M302.5 65.1H303.1M302.8 63.2V67.1M303.1 64.9H303.6M303.4 63.1V67.0M303.6 66.8H304.2M303.9 64.9V68.8M304.2 66.7H304.8M304.5 64.9V68.7M304.8 65.4H305.4M305.1 63.5V67.4M305.4 66.2H305.9M305.6 64.4V68.3M305.9 63.6H306.5M306.2 61.7V65.7M306.5 63.4H307.1M306.8 61.5V65.5M307.1 65.7H307.6M307.3 63.8V67.7M307.6 65.0H308.2M307.9 63.1V67.0M308.2 68.9H308.7M308.5 67.0V71.0M308.7 65.0H309.3M309.0 63.1V67.1M309.3 66.4H309.8M309.6 64.5V68.5M309.8 65.6H310.4M310.1 63.7V67.7M310.4 63.8H310.9M310.7 61.8V65.9M310.9 71.2H311.5M311.2 69.3V73.3M311.5 66.7H312.0M311.8 64.7V68.8M312.0 69.8H312.6M312.3 67.8V71.9M312.6 66.5H313.1M312.8 64.5V68.6M313.1 70.7H313.7M313.4 68.8V72.9M313.7 69.1H314.2M313.9 67.1V71.3M314.2 67.9H314.7M314.5 65.9V70.0M314.7 67.3H315.3M315.0 65.3V69.4M315.3 68.6H315.8M315.5 66.6V70.7M315.8 70.6H316.3M316.0 68.6V72.8M316.3 70.3H316.8M316.6 68.3V72.5M316.8 67.6H317.4M317.1 65.6V69.8M317.4 69.6H317.9M317.6 67.6V71.8M317.9 73.6H318.4M318.1 71.6V75.8M318.4 68.3H318.9M318.7 66.2V70.5M318.9 69.3H319.4M319.2 67.3V71.5M319.4 68.6H319.9M319.7 66.6V70.8M319.9 71.3H320.5M320.2 69.3V73.6M320.5 69.1H321.0M320.7 67.0V71.3M321.0 73.4H321.5M321.2 71.3V75.6M321.5 70.0H322.0M321.7 68.0V72.3M322.0 72.5H322.5M322.2 70.4V74.7M322.5 70.2H323.0M322.7 68.1V72.5M323.0 69.7H323.5M323.2 67.7V72.0M323.5 73.7H324.0M323.7 71.6V75.9M324.0 72.3H324.5M324.2 70.2V74.6M324.5 72.3H325.0M324.7 70.2V74.6M325.0 70.2H325.5M325.2 68.1V72.5M325.5 71.4H326.0M325.7 69.3V73.7M326.0 76.1H326.5M326.2 74.0V78.4M326.5 72.5H326.9M326.7 70.3V74.8M326.9 72.1H327.4M327.2 70.0V74.5M327.4 70.1H327.9M327.7 67.9V72.5M327.9 78.5H328.4M328.2 76.3V80.9M328.4 75.8H328.9M328.6 73.6V78.2M328.9 72.0H329.4M329.1 69.8V74.4M329.4 78.5H329.8M329.6 76.3V80.9M329.8 78.4H330.3M330.1 76.1V80.8M330.3 74.5H330.8M330.6 72.2V76.9M330.8 73.6H331.3M331.0 71.4V76.1M331.3 77.8H331.7M331.5 75.6V80.3M331.7 75.2H332.2M332.0 72.9V77.7M332.2 76.4H332.7M332.4 74.2V79.0M332.7 73.6H333.1M332.9 71.3V76.1M333.1 77.2H333.6M333.4 74.9V79.8M333.6 75.2H334.1M333.8 72.9V77.8M334.1 80.1H334.5M334.3 77.8V82.7M334.5 78.5H335.0M334.8 76.1V81.1M335.0 78.5H335.5M335.2 76.2V81.2M335.5 75.9H335.9M335.7 73.5V78.5M335.9 77.4H336.4M336.1 75.0V80.1M336.4 81.0H336.8M336.6 78.7V83.7M336.8 77.7H337.3M337.1 75.3V80.3M337.3 77.7H337.7M337.5 75.3V80.4M337.7 80.1H338.2M338.0 77.7V82.8M338.2 80.8H338.6M338.4 78.3V83.5M338.6 80.8H339.1M338.9 78.4V83.6M339.1 85.5H339.5M339.3 83.0V88.3M339.5 80.3H340.0M339.8 77.9V83.1M340.0 80.5H340.4M340.2 78.0V83.3M340.4 83.7H340.9M340.6 81.3V86.6M340.9 79.7H341.3M341.1 77.2V82.5M341.3 85.8H341.7M341.5 83.3V88.7M341.7 83.6H342.2M342.0 81.1V86.5M342.2 83.6H342.6M342.4 81.1V86.5M342.6 78.0H343.0M342.8 75.4V80.9M343.0 87.7H343.5M343.3 85.1V90.5M343.5 81.6H343.9M343.7 79.0V84.5M343.9 80.9H344.3M344.1 78.3V83.8M344.3 82.5H344.8M344.6 80.0V85.5M344.8 80.8H345.2M345.0 78.2V83.7M345.2 87.0H345.6M345.4 84.4V90.0M345.6 90.3H346.1M345.8 87.7V93.3M346.1 82.5H346.5M346.3 79.8V85.5M346.5 88.4H346.9M346.7 85.8V91.4M346.9 85.9H347.3M347.1 83.3V89.0M347.3 88.9H347.7M347.5 86.2V91.9M347.7 82.7H348.2M348.0 80.0V85.7M348.2 83.2H348.5M348.3 80.5V86.2" stroke="#000" stroke-width="0.7" fill="none"/><path d="M341.6 100V136M345.2 104V124M329.2 98V111" stroke="#ff40ff" stroke-width="0.8"/><path d="M303 61L348 86.5" stroke="#000" stroke-width="0.9"/><path d="M349.1 100V242" stroke="#ff70ff" stroke-width="1.6"/><path d="M53.3 242.2v-2.4M53.3 1.6v2.4M74.7 242.2v-2.4M74.7 1.6v2.4M93.3 242.2v-2.4M93.3 1.6v2.4M109.7 242.2v-2.4M109.7 1.6v2.4M124.4 242.2v-3.8M124.4 1.6v3.8M220.9 242.2v-2.4M220.9 1.6v2.4M277.4 242.2v-2.4M277.4 1.6v2.4M317.4 242.2v-2.4M317.4 1.6v2.4M27.9 242.2h3.8M348.5 242.2h-3.8M27.9 227.0h1.9M348.5 227.0h-1.9M27.9 218.2h1.9M348.5 218.2h-1.9M27.9 211.9h1.9M348.5 211.9h-1.9M27.9 207.0h1.9M348.5 207.0h-1.9M27.9 203.0h1.9M348.5 203.0h-1.9M27.9 199.6h1.9M348.5 199.6h-1.9M27.9 196.7h1.9M348.5 196.7h-1.9M27.9 194.1h1.9M348.5 194.1h-1.9M27.9 191.8h3.8M348.5 191.8h-3.8M27.9 176.6h1.9M348.5 176.6h-1.9M27.9 167.8h1.9M348.5 167.8h-1.9M27.9 161.5h1.9M348.5 161.5h-1.9M27.9 156.6h1.9M348.5 156.6h-1.9M27.9 152.6h1.9M348.5 152.6h-1.9M27.9 149.2h1.9M348.5 149.2h-1.9M27.9 146.3h1.9M348.5 146.3h-1.9M27.9 143.7h1.9M348.5 143.7h-1.9M27.9 141.4h3.8M348.5 141.4h-3.8M27.9 126.2h1.9M348.5 126.2h-1.9M27.9 117.4h1.9M348.5 117.4h-1.9M27.9 111.1h1.9M348.5 111.1h-1.9M27.9 106.2h1.9M348.5 106.2h-1.9M27.9 102.2h1.9M348.5 102.2h-1.9M27.9 98.8h1.9M348.5 98.8h-1.9M27.9 95.9h1.9M348.5 95.9h-1.9M27.9 93.3h1.9M348.5 93.3h-1.9M27.9 91.0h3.8M348.5 91.0h-3.8M27.9 75.8h1.9M348.5 75.8h-1.9M27.9 67.0h1.9M348.5 67.0h-1.9M27.9 60.7h1.9M348.5 60.7h-1.9M27.9 55.8h1.9M348.5 55.8h-1.9M27.9 51.8h1.9M348.5 51.8h-1.9M27.9 48.4h1.9M348.5 48.4h-1.9M27.9 45.5h1.9M348.5 45.5h-1.9M27.9 42.9h1.9M348.5 42.9h-1.9M27.9 40.6h3.8M348.5 40.6h-3.8M27.9 25.4h1.9M348.5 25.4h-1.9M27.9 16.6h1.9M348.5 16.6h-1.9M27.9 10.3h1.9M348.5 10.3h-1.9M27.9 5.4h1.9M348.5 5.4h-1.9" stroke="#505050" stroke-width="1.0" fill="none"/><path d="M123.05 247.29 L123.51 247.06 L124.20 246.37 L124.20 251.20M219.62 247.72 L219.62 247.49 L219.85 247.03 L220.08 246.80 L220.54 246.57 L221.46 246.57 L221.92 246.80 L222.15 247.03 L222.38 247.49 L222.38 247.95 L222.15 248.41 L221.69 249.10 L219.39 251.40 L222.61 251.40M19.50 43.66 L19.30 43.20 L18.70 42.52 L22.90 42.52M18.70 38.38 L18.90 39.06 L19.50 39.52 L20.50 39.76 L21.10 39.76 L22.10 39.52 L22.70 39.06 L22.90 38.38 L22.90 37.91 L22.70 37.23 L22.10 36.77 L21.10 36.54 L20.50 36.54 L19.50 36.77 L18.90 37.23 L18.70 37.91 L18.70 38.38M19.50 91.88 L19.30 91.41 L18.70 90.72 L22.90 90.72M18.70 145.19 L18.90 145.88 L19.50 146.34 L20.50 146.57 L21.10 146.57 L22.10 146.34 L22.70 145.88 L22.90 145.19 L22.90 144.73 L22.70 144.04 L22.10 143.58 L21.10 143.35 L20.50 143.35 L19.50 143.58 L18.90 144.04 L18.70 144.73 L18.70 145.19M22.50 141.51 L22.70 141.74 L22.90 141.51 L22.70 141.28 L22.50 141.51M19.50 138.98 L19.30 138.52 L18.70 137.83 L22.90 137.83M18.70 197.29 L18.90 197.98 L19.50 198.44 L20.50 198.67 L21.10 198.67 L22.10 198.44 L22.70 197.98 L22.90 197.29 L22.90 196.83 L22.70 196.14 L22.10 195.68 L21.10 195.45 L20.50 195.45 L19.50 195.68 L18.90 196.14 L18.70 196.83 L18.70 197.29M22.50 193.61 L22.70 193.84 L22.90 193.61 L22.70 193.38 L22.50 193.61M18.70 190.39 L18.90 191.08 L19.50 191.54 L20.50 191.77 L21.10 191.77 L22.10 191.54 L22.70 191.08 L22.90 190.39 L22.90 189.93 L22.70 189.24 L22.10 188.78 L21.10 188.55 L20.50 188.55 L19.50 188.78 L18.90 189.24 L18.70 189.93 L18.70 190.39M19.50 186.48 L19.30 186.02 L18.70 185.33 L22.90 185.33M19.50 248.67 L19.30 248.21 L18.70 247.52 L22.90 247.52M18.70 243.38 L18.90 244.07 L19.50 244.53 L20.50 244.76 L21.10 244.76 L22.10 244.53 L22.70 244.07 L22.90 243.38 L22.90 242.92 L22.70 242.23 L22.10 241.77 L21.10 241.54 L20.50 241.54 L19.50 241.77 L18.90 242.23 L18.70 242.92 L18.70 243.38M18.80 240.19 L18.80 237.21M17.08 235.72 L17.08 233.90 L18.23 234.89 L18.23 234.39 L18.37 234.06 L18.52 233.90 L18.95 233.73 L19.24 233.73 L19.67 233.90 L19.96 234.23 L20.10 234.72 L20.10 235.22 L19.96 235.72 L19.81 235.88 L19.52 236.05" stroke="#2e2e2e" stroke-width="0.85" fill="none" stroke-linecap="round" stroke-linejoin="round"/><text transform="translate(188.3 260.3) scale(0.8 1)" x="0" y="0" font-family="Liberation Sans, sans-serif" font-size="7.7" letter-spacing="0.45" text-anchor="middle" fill="#333" stroke="#333" stroke-width="0.1">Energy (keV)</text><text transform="rotate(-90)" x="-165.9" y="8.9" font-family="Liberation Sans, sans-serif" font-size="7.8" text-anchor="start" fill="#333" stroke="#333" stroke-width="0.12">normalized</text><text transform="rotate(-90)" x="-124.0" y="8.9" font-family="Liberation Sans, sans-serif" font-size="7.8" text-anchor="start" fill="#333" stroke="#333" stroke-width="0.12">counts</text><text transform="rotate(-90)" x="-95.9" y="8.9" font-family="Liberation Sans, sans-serif" font-size="7.8" text-anchor="start" fill="#333" stroke="#333" stroke-width="0.12">s</text><text transform="rotate(-90)" x="-91.0" y="4.8" font-family="Liberation Sans, sans-serif" font-size="5.2" text-anchor="start" fill="#333" stroke="#333" stroke-width="0.12">−1</text><text transform="rotate(-90)" x="-80.0" y="8.9" font-family="Liberation Sans, sans-serif" font-size="7.8" text-anchor="start" fill="#333" stroke="#333" stroke-width="0.12" textLength="13.6" lengthAdjust="spacingAndGlyphs">keV</text><text transform="rotate(-90)" x="-65.6" y="4.8" font-family="Liberation Sans, sans-serif" font-size="5.2" text-anchor="start" fill="#333" stroke="#333" stroke-width="0.12">−1</text></svg></body></html>
